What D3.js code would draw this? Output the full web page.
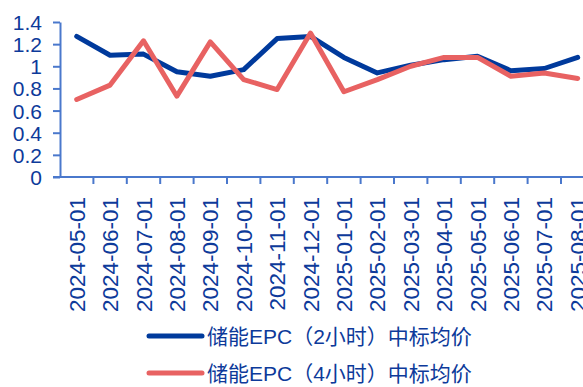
<!DOCTYPE html>
<html>
<head>
<meta charset="utf-8">
<script src="https://cdn.jsdelivr.net/npm/d3@7"></script>
<style>
  body { margin: 0; background: #fff; }
  svg text { font-family: "Liberation Sans", Arial, "Noto Sans CJK SC", sans-serif; fill: #0d3a9a; }
</style>
</head>
<body>
<svg id="chart"></svg>
<script>
const months = ["2024-05-01", "2024-06-01", "2024-07-01", "2024-08-01", "2024-09-01", "2024-10-01",
  "2024-11-01", "2024-12-01", "2025-01-01", "2025-02-01", "2025-03-01", "2025-04-01",
  "2025-05-01", "2025-06-01", "2025-07-01", "2025-08-01"];
const epc2h = [1.27, 1.10, 1.11, 0.95, 0.91, 0.97, 1.25, 1.27, 1.08, 0.94, 1.01, 1.06, 1.09, 0.96, 0.98, 1.08];
const epc4h = [0.70, 0.83, 1.23, 0.73, 1.22, 0.88, 0.79, 1.30, 0.77, 0.88, 1.00, 1.08, 1.08, 0.91, 0.94, 0.89];
const yTicks = [0, 0.2, 0.4, 0.6, 0.8, 1, 1.2, 1.4];
const seriesNames = ["储能EPC（2小时）中标均价", "储能EPC（4小时）中标均价"];

const width = 583, height = 387;
const margin = { top: 22, left: 60 };
const bandW = 33.4;
const axisColor = "#4a78cc";
const colors = ["#003a9c", "#e86262"];

const svg = d3.select("#chart").attr("width", width).attr("height", height);

const x = d3.scaleBand()
    .domain(months)
    .range([margin.left, margin.left + bandW * months.length]);

const y = d3.scaleLinear()
    .domain([0, 1.4])
    .range([177, margin.top]);

// y axis
const yAxis = svg.append("g")
    .attr("transform", `translate(${margin.left},0)`)
    .call(d3.axisLeft(y).tickValues(yTicks).tickFormat(d => String(+d.toFixed(1))).tickSize(7).tickSizeOuter(0).tickPadding(11));
yAxis.select(".domain").attr("stroke", axisColor).attr("stroke-width", 2);
yAxis.selectAll(".tick line").attr("stroke", axisColor).attr("stroke-width", 2);
yAxis.selectAll("text").style("font-size", "21px").attr("dy", "0.36em");

// x axis
const xAxis = svg.append("g")
    .attr("transform", `translate(0,${y(0)})`)
    .call(d3.axisBottom(x).tickSize(0).tickSizeOuter(0));
xAxis.select(".domain").attr("stroke", axisColor).attr("stroke-width", 2)
    .attr("d", `M${margin.left - 7},0H${width}`);
xAxis.selectAll(".tick line").remove();
xAxis.selectAll(".tick text")
    .style("font-size", "22.5px")
    .style("text-anchor", "end")
    .attr("transform", "rotate(-90)")
    .attr("x", -20)
    .attr("y", 0)
    .attr("dy", "0.36em");

svg.append("g")
    .selectAll("line")
    .data(months)
    .enter().append("line")
    .attr("x1", d => x(d) + x.bandwidth())
    .attr("x2", d => x(d) + x.bandwidth())
    .attr("y1", y(0))
    .attr("y2", y(0) + 7)
    .attr("stroke", axisColor)
    .attr("stroke-width", 2);

// lines
const line = d3.line()
    .x((d, i) => x(months[i]) + x.bandwidth() / 2)
    .y(d => y(d));

[epc2h, epc4h].forEach((s, i) => {
  svg.append("path")
      .datum(s)
      .attr("fill", "none")
      .attr("stroke", colors[i])
      .attr("stroke-width", 5)
      .attr("stroke-linejoin", "round")
      .attr("stroke-linecap", "round")
      .attr("d", line);
});

// legend
const legend = svg.append("g");
seriesNames.forEach((name, i) => {
  const ly = 336 + i * 37;
  legend.append("line")
      .attr("x1", 149).attr("x2", 202)
      .attr("y1", ly).attr("y2", ly)
      .attr("stroke", colors[i])
      .attr("stroke-width", 5)
      .attr("stroke-linecap", "round");
  legend.append("text")
      .attr("x", 207)
      .attr("y", ly)
      .attr("dy", "0.36em")
      .style("font-size", "21px")
      .text(name);
});
</script>
</body>
</html>
